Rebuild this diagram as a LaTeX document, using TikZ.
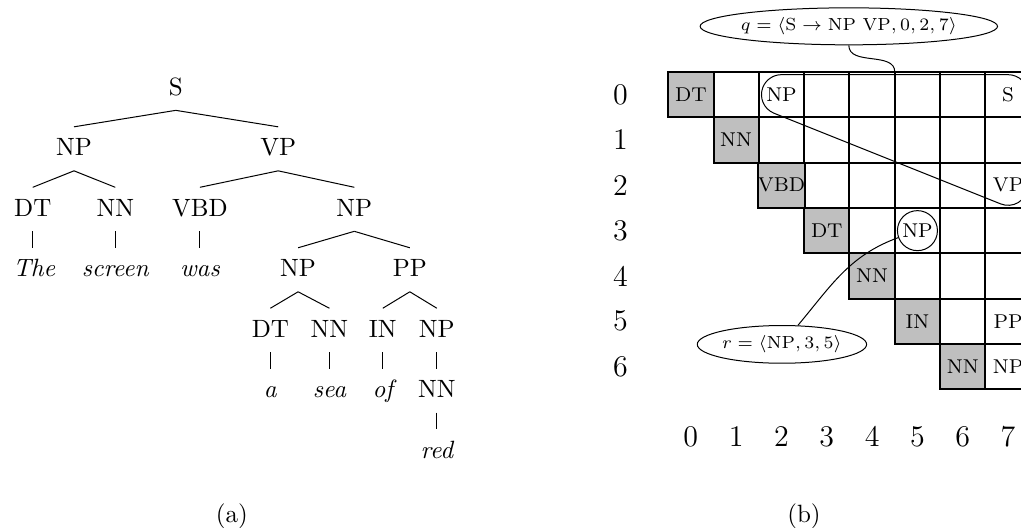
\documentclass[tikz,border=0pt]{standalone}
\usepackage{amsmath}
\usetikzlibrary{shapes.geometric}

\tikzset{
  tnode/.style={anchor=base, inner sep=3pt, text height=8.4pt, text depth=2.8pt},
  word/.style={tnode, font=\itshape},
  cell/.style={draw, thick, fill=white, minimum size=0.637cm, inner sep=0pt, font=\footnotesize},
  tag/.style={cell, fill=gray!50},
  call/.style={draw, ellipse, inner sep=0pt, font=\fontsize{7.5pt}{9pt}\selectfont},
}

\begin{document}
\begin{tikzpicture}
\clip (0,0) rectangle (14.35,-7.41);

% (a) the parse tree
\node[tnode] (S) at (2.47,-1.34) {S};
\node[tnode] (np1) at (1.04,-2.19) {NP};
\node[tnode] (vp) at (3.91,-2.19) {VP};
\node[tnode] (dt1) at (0.46,-3.04) {DT};
\node[tnode] (nn1) at (1.62,-3.04) {NN};
\node[tnode] (vbd) at (2.81,-3.04) {VBD};
\node[tnode] (np2) at (4.98,-3.04) {NP};
\node[word] (the) at (0.48,-3.89) {The};
\node[word] (screen) at (1.62,-3.89) {screen};
\node[word] (was) at (2.81,-3.89) {was};
\node[tnode] (np3) at (4.19,-3.89) {NP};
\node[tnode] (pp) at (5.76,-3.89) {PP};
\node[tnode] (dt2) at (3.80,-4.74) {DT};
\node[tnode] (nn2) at (4.63,-4.74) {NN};
\node[tnode] (in) at (5.38,-4.74) {IN};
\node[tnode] (np4) at (6.14,-4.74) {NP};
\node[word] (a) at (3.80,-5.59) {a};
\node[word] (sea) at (4.63,-5.59) {sea};
\node[word] (of) at (5.38,-5.59) {of};
\node[tnode] (nn3) at (6.14,-5.59) {NN};
\node[word] (red) at (6.14,-6.44) {red};

\draw (S.south) -- (np1.north);
\draw (S.south) -- (vp.north);
\draw (np1.south) -- (dt1.north);
\draw (np1.south) -- (nn1.north);
\draw (vp.south) -- (vbd.north);
\draw (vp.south) -- (np2.north);
\draw (dt1.south) -- (dt1.south |- the.north);
\draw (nn1.south) -- (screen.north);
\draw (vbd.south) -- (was.north);
\draw (np2.south) -- (np3.north);
\draw (np2.south) -- (pp.north);
\draw (np3.south) -- (dt2.north);
\draw (np3.south) -- (nn2.north);
\draw (pp.south) -- (in.north);
\draw (pp.south) -- (np4.north);
\draw (dt2.south) -- (a.north);
\draw (nn2.south) -- (sea.north);
\draw (in.south) -- (of.north);
\draw (np4.south) -- (nn3.north);
\draw (nn3.south) -- (red.north);

\node[anchor=base] (capa) at (3.26,-7.34) {(a)};

% (b) the chart
\begin{scope}[shift={(9.391,-1.012)}, x=0.637cm, y=0.637cm]
  \foreach \i in {0,...,6}
    \foreach \j in {\i,...,7}
      \node[cell] (c\i\j) at (\j+.5,-\i-.5) {};
  \foreach \i/\t in {0/DT,1/NN,2/VBD,3/DT,4/NN,5/IN,6/NN}
    \node[tag] (c\i\i) at (\i+.5,-\i-.5) {\t};
  \foreach \i/\j/\t in {0/2/NP,0/7/S,2/7/VP,5/7/PP,6/7/NP}
    \node[font=\footnotesize] (t\i\j) at (c\i\j) {\t};
  \node[draw, circle, minimum size=16pt, inner sep=0pt, font=\footnotesize] (rnp) at (c35) {NP};

  \draw ([yshift=8pt]c02.center) -- ([yshift=8pt]c07.center)
    arc[start angle=90, end angle=0, radius=8pt]
    -- ([xshift=8pt]c27.center)
    arc[start angle=0, end angle=-111.8, radius=8pt]
    -- ([shift={(248.2:8pt)}]c02.center)
    arc[start angle=248.2, end angle=90, radius=8pt] -- cycle;

  \foreach \i in {0,...,6}
    \node[font=\large] (row\i) at (-1.05,-\i-.5) {\i};
  \foreach \j in {0,...,7}
    \node[font=\large] (col\j) at (\j+.5,-8.04) {\j};
  \coordinate (qend) at (5,0);
\end{scope}

\node[call, minimum width=4.18cm, minimum height=0.52cm] (q) at (11.93,-0.37)
  {\makebox[0pt]{$q = \langle \mathrm{S} \rightarrow \mathrm{NP}\ \mathrm{VP}, 0, 2, 7\rangle$}};
\node[call, minimum width=2.38cm, minimum height=0.53cm] (r) at (10.99,-4.84)
  {\makebox[0pt]{$r = \langle \mathrm{NP}, 3, 5\rangle$}};
\draw (q) to[out=-90, in=90] (qend);
\draw (r) to[out=50, in=200] (rnp);

\node[anchor=base] (capb) at (11.30,-7.34) {(b)};
\end{tikzpicture}
\end{document}
